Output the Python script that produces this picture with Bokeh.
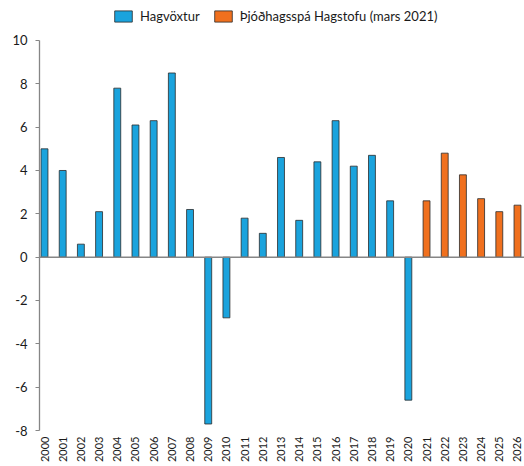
import math
from bokeh.plotting import figure
from bokeh.models import (ColumnDataSource, Range1d, FixedTicker, Span, Legend, LegendItem,
                          PrintfTickFormatter)
from bokeh.embed import file_html
from bokeh.resources import INLINE

# Data
years_hist = [2000, 2001, 2002, 2003, 2004, 2005, 2006, 2007, 2008, 2009, 2010,
              2011, 2012, 2013, 2014, 2015, 2016, 2017, 2018, 2019, 2020]
growth_hist = [5.0, 4.0, 0.6, 2.1, 7.8, 6.1, 6.3, 8.5, 2.2, -7.7, -2.8,
               1.8, 1.1, 4.6, 1.7, 4.4, 6.3, 4.2, 4.7, 2.6, -6.6]
years_fcst = [2021, 2022, 2023, 2024, 2025, 2026]
growth_fcst = [2.6, 4.8, 3.8, 2.7, 2.1, 2.4]
year_ticks = [2000, 2001, 2002, 2003, 2004, 2005, 2006, 2007, 2008, 2009, 2010,
              2011, 2012, 2013, 2014, 2015, 2016, 2017, 2018, 2019, 2020,
              2021, 2022, 2023, 2024, 2025, 2026]
y_ticks = [-8, -6, -4, -2, 0, 2, 4, 6, 8, 10]
label_hist = "Hagvöxtur"
label_fcst = "Þjóðhagsspá Hagstofu (mars 2021)"

FONT = "Lato"
BLUE = "#1aa3dd"
ORANGE = "#f0701e"
EDGE = "#2b2b2b"
AXIS = "#868686"

FRAME_H = 430
p = figure(frame_width=485, frame_height=FRAME_H, output_backend="svg", toolbar_location=None,
           x_range=Range1d(1999.725, 2026.385), y_range=Range1d(-8, 11.846),
           min_border_left=39, min_border_right=0, min_border_top=0, min_border_bottom=0)

src_h = ColumnDataSource(dict(x=years_hist, top=growth_hist))
src_f = ColumnDataSource(dict(x=years_fcst, top=growth_fcst))
r1 = p.vbar(x="x", top="top", bottom=0, width=0.38, source=src_h,
            fill_color=BLUE, line_color=EDGE, line_width=0.8)
r2 = p.vbar(x="x", top="top", bottom=0, width=0.38, source=src_f,
            fill_color=ORANGE, line_color=EDGE, line_width=0.8)

p.add_layout(Span(location=0, dimension="width", line_color=AXIS, line_width=1.5))

p.xgrid.visible = False
p.ygrid.visible = False
p.outline_line_color = None

xa = p.xaxis[0]
xa.ticker = FixedTicker(ticks=year_ticks)
xa.major_label_orientation = math.pi / 2
xa.axis_line_color = None
xa.major_tick_line_color = None
xa.minor_tick_line_color = None
xa.major_tick_out = 0
xa.major_tick_in = 0
xa.major_label_text_font = FONT
xa.major_label_text_font_size = "11px"
xa.major_label_text_color = "#1a1a1a"
xa.major_label_standoff = 6

ya = p.yaxis[0]
ya.ticker = FixedTicker(ticks=y_ticks)
ya.bounds = (-8, 10)
ya.formatter = PrintfTickFormatter(format="%d")
ya.axis_line_color = AXIS
ya.axis_line_width = 1.3
ya.major_tick_line_color = AXIS
ya.major_tick_out = 4
ya.major_tick_in = 0
ya.minor_tick_line_color = None
ya.major_label_text_font = FONT
ya.major_label_text_font_size = "13px"
ya.major_label_text_color = "#1a1a1a"
ya.major_label_standoff = 8

legend = Legend(items=[LegendItem(label=label_hist, renderers=[r1]),
                       LegendItem(label=label_fcst, renderers=[r2])],
                orientation="horizontal", location=(73, 406),
                label_text_font=FONT, label_text_font_size="13px",
                label_text_color="#1a1a1a",
                glyph_width=22, glyph_height=14, label_height=14,
                label_standoff=6, spacing=12, padding=0, margin=0,
                border_line_color=None, background_fill_alpha=0)
p.add_layout(legend, "center")

open("out.html", "w").write(file_html(p, INLINE))
